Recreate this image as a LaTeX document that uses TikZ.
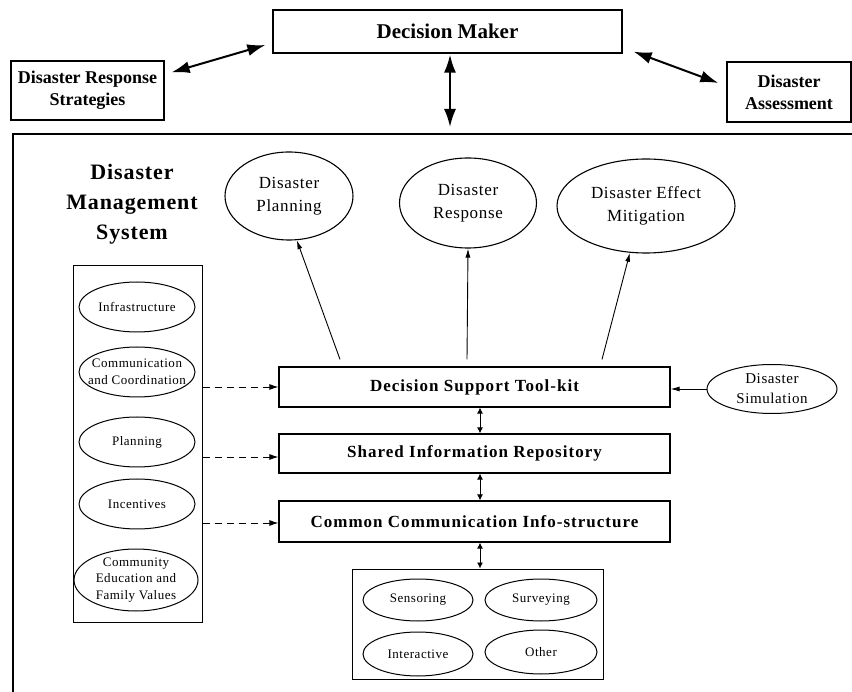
\documentclass[tikz,border=0pt]{standalone}
\usepackage{fontspec}
\setmainfont{Liberation Serif}
\newfontfamily\trackfont{Liberation Serif}[LetterSpace=4]
\newfontfamily\widetrack{Liberation Serif}[LetterSpace=6]
\usetikzlibrary{arrows.meta,calc,shapes.geometric}

\tikzset{
  topbox/.style={draw, line width=1.3pt, inner sep=0pt, align=center,
    font=\bfseries\fontsize{18}{22}\selectfont},
  layerbox/.style={draw, line width=1.2pt, inner sep=0pt, minimum width=391,
    font=\widetrack\bfseries\fontsize{17}{20}\selectfont},
  bigoval/.style={draw, ellipse, line width=1.1pt, inner sep=0pt, align=center,
    font=\trackfont\fontsize{17}{23}\selectfont},
  smalloval/.style={draw, ellipse, line width=1pt, inner sep=0pt,
    minimum width=116, minimum height=50},
  ovaltext/.style={align=center, inner sep=0pt,
    font=\trackfont\fontsize{13}{17}\selectfont},
  panel/.style={draw, line width=1pt, inner sep=0pt},
  bigarrow/.style={line width=2pt,
    {Latex[length=18pt,width=12pt]}-{Latex[length=18pt,width=12pt]}},
  thinarrow/.style={line width=0.9pt, -{Latex[length=9pt,width=5pt]}},
  dasharrow/.style={line width=0.9pt, dash pattern=on 7pt off 5pt,
    -{Latex[length=9pt,width=6pt]}},
  linkarrow/.style={line width=0.9pt,
    {Latex[length=6pt,width=6pt]}-{Latex[length=6pt,width=6pt]}},
}

\begin{document}
\begin{tikzpicture}[x=1pt,y=-1pt]
\useasboundingbox[fill=white] (0,0) rectangle (852,692);

% decision maker and its two partners
\node[topbox, minimum width=349, minimum height=43, font=\bfseries\fontsize{21}{24}\selectfont]
  (dm) at (447.5,31.5) {Decision Maker};
\node[topbox, minimum width=153, minimum height=59] (drs) at (87.5,90.5) {Disaster Response\\Strategies};
\node[topbox, minimum width=124, minimum height=60] (da) at (789,92) {Disaster\\Assessment};

\draw[bigarrow] ($(drs.north east)+(7,12)$) -- ($(dm.west)+(-7,13.5)$);
\draw[bigarrow] ($(dm.south east)+(11,-2)$) -- ($(da.west)+(-8,-9)$);
\coordinate (systop) at (450,127);
\draw[bigarrow] ($(dm.south)+(2.5,1)$) -- (systop);

% outline of the management system
\draw[line width=1.6pt] (852,134) -- (13,134) -- (13,692);

\node[font=\trackfont\bfseries\fontsize{22}{30}\selectfont, align=center] (title) at (132,204)
  {Disaster\\Management\\System};

% outcomes
\node[bigoval, minimum width=128, minimum height=88] (plan) at (289,196) {Disaster\\Planning};
\node[bigoval, minimum width=137, minimum height=90] (resp) at (468,203) {Disaster\\Response};
\node[bigoval, minimum width=178, minimum height=94] (mitig) at (646,206) {Disaster Effect\\Mitigation};

% layered core
\node[layerbox, minimum height=40] (dst) at (474.5,387) {Decision Support Tool-kit};
\node[layerbox, minimum height=39] (sir) at (474.5,453.5) {Shared Information Repository};
\node[layerbox, minimum height=41] (cci) at (474.5,521.5) {Common Communication Info-structure};

\draw[thinarrow] ($(dst.north)+(-134.5,-7)$) -- (plan.-80);
\draw[thinarrow] ($(dst.north)+(-7.5,-7)$) -- (resp.south);
\draw[thinarrow] ($(dst.north)+(127.5,-7)$) -- (mitig.-109);

\node[draw, ellipse, line width=1pt, inner sep=0pt, align=center,
  minimum width=130, minimum height=49, font=\trackfont\fontsize{15}{20}\selectfont]
  (sim) at (772,389) {Disaster\\Simulation};
\draw[thinarrow] (sim.west) -- (sim.west -| dst.east);

\draw[linkarrow] ($(dst.south)+(5.5,0)$) -- ($(sir.north)+(5.5,0)$);
\draw[linkarrow] ($(sir.south)+(5.5,0)$) -- ($(cci.north)+(5.5,0)$);

% contributing factors
\node[panel, minimum width=129, minimum height=356] (factors) at (137.5,444) {};
\node[smalloval, label={[ovaltext]center:Infrastructure}] (infra) at (137,307) {};
\node[smalloval, label={[ovaltext]center:{Communication\\and Coordination}}] (comm) at (137,372) {};
\node[smalloval, label={[ovaltext]center:Planning}] (planf) at (137,442) {};
\node[smalloval, label={[ovaltext]center:Incentives}] (incent) at (137,504) {};
\node[smalloval, minimum width=124, minimum height=62,
  label={[ovaltext, font=\trackfont\fontsize{13}{16.5}\selectfont]center:{Community\\Education and\\Family Values}}]
  (commun) at (136,580) {};

\draw[dasharrow] (factors.east |- dst.west) -- (dst.west);
\draw[dasharrow] ($(factors.east |- sir.west)+(0,3.5)$) -- ($(sir.west)+(0,3.5)$);
\draw[dasharrow] ($(factors.east |- cci.west)+(0,1.5)$) -- ($(cci.west)+(0,1.5)$);

% data sources
\node[panel, minimum width=251, minimum height=110] (sources) at (477.5,624) {};
\node[smalloval, minimum width=110, minimum height=42, label={[ovaltext]center:Sensoring}] (sens) at (418,600) {};
\node[smalloval, minimum width=112, minimum height=42, label={[ovaltext]center:Surveying}] (surv) at (541,600) {};
\node[smalloval, minimum width=110, minimum height=44, label={[ovaltext]center:Interactive}] (inter) at (418,654) {};
\node[smalloval, minimum width=112, minimum height=44, label={[ovaltext]center:Other}] (other) at (541,652) {};

\coordinate (ccifoot) at ($(cci.south)+(5.5,0)$);
\draw[linkarrow] (ccifoot) -- (ccifoot |- sources.north);
\end{tikzpicture}
\end{document}
